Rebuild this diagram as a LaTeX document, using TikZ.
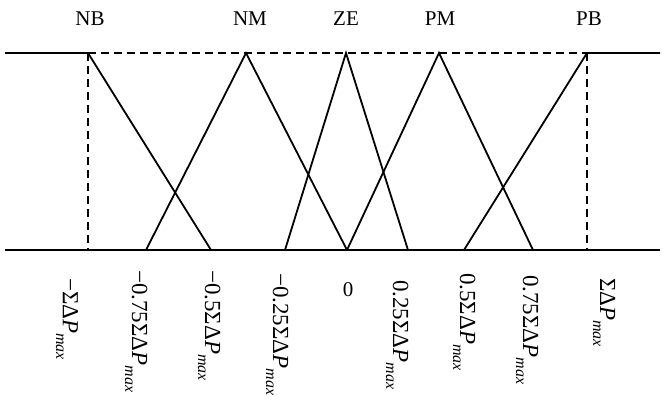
\documentclass[tikz,border=0pt]{standalone}
\usepackage{fontspec}
\setmainfont{Liberation Serif}
\newcommand{\pmx}{\textit{P}\raisebox{-0.3em}{\fontsize{16}{18}\selectfont\textit{max}}}
\begin{document}
\begin{tikzpicture}[x=1pt,y=-1pt,
  mf/.style={line width=1.8pt},
  guide/.style={line width=1.8pt, dash pattern=on 8pt off 5pt},
  toplbl/.style={font=\fontsize{21}{24}\selectfont, inner sep=0pt},
  axlbl/.style={rotate=-90, anchor=base west, inner sep=0pt, font=\fontsize{23}{26}\selectfont}]
\useasboundingbox (0,0) rectangle (665,400);
% top and bottom ends
\coordinate (Lt) at (5,53);
\coordinate (Rt) at (660,53);
\coordinate (Lb) at (5,250);
\coordinate (Rb) at (660,250);
% peaks
\coordinate (pNB) at (88,53);
\coordinate (pNM) at (246,53);
\coordinate (pZE) at (346,53);
\coordinate (pPM) at (439,53);
\coordinate (pPB) at (587,53);
% bottom points
\coordinate (bNB) at (88,250);
\coordinate (bn75) at (146,250);
\coordinate (bn5) at (211,250);
\coordinate (bn25) at (285,250);
\coordinate (b0) at (347,250);
\coordinate (b25) at (408,250);
\coordinate (b5) at (464,250);
\coordinate (b75) at (533,250);
\coordinate (bPB) at (587,250);
% guides
\draw[guide] (pNB) -- (pPB);
\draw[guide] (pNB) -- (bNB);
\draw[guide] (pPB) -- (bPB);
% axis
\draw[mf] (Lb) -- (Rb);
% membership functions
\draw[mf] (Lt) -- (pNB) -- (bn5);
\draw[mf] (bn75) -- (pNM) -- (b0);
\draw[mf] (bn25) -- (pZE) -- (b25);
\draw[mf] (b0) -- (pPM) -- (b75);
\draw[mf] (b5) -- (pPB) -- (Rt);
% top labels
\node[toplbl] (tNB) at (90,19) {NB};
\node[toplbl] (tNM) at (250,19) {NM};
\node[toplbl] (tZE) at (346,19) {ZE};
\node[toplbl] (tPM) at (440,19) {PM};
\node[toplbl] (tPB) at (589,19) {PB};
% axis labels
\node[axlbl] (l1) at (63,278) {−ΣΔ\pmx};
\node[axlbl] (l2) at (132,270) {−0.75ΣΔ\pmx};
\node[axlbl] (l3) at (205,270) {−0.5ΣΔ\pmx};
\node[axlbl] (l4) at (273,273) {−0.25ΣΔ\pmx};
\node[toplbl] (l5) at (348,290) {0};
\node[axlbl] (l6) at (393,280) {0.25ΣΔ\pmx};
\node[axlbl] (l7) at (460,273) {0.5ΣΔ\pmx};
\node[axlbl] (l8) at (523,275) {0.75ΣΔ\pmx};
\node[axlbl] (l9) at (600,278) {ΣΔ\pmx};
\end{tikzpicture}
\end{document}
